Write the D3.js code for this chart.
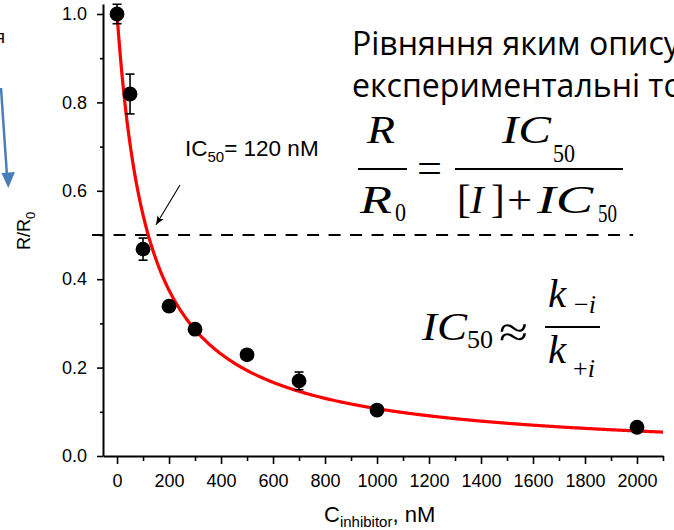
<!DOCTYPE html>
<html>
<head>
<meta charset="utf-8">
<script src="https://cdn.jsdelivr.net/npm/d3@7"></script>
<style>
  html, body { margin: 0; padding: 0; background: #fff; }
  svg { display: block; }
</style>
</head>
<body>
<svg id="chart" width="674" height="530"></svg>
<script>
// Inhibitor concentration (nM) and relative response R/R0 with error bars
const conc  = [0, 50, 100, 200, 300, 500, 700, 1000, 2000];
const ratio = [1.0, 0.819, 0.468, 0.339, 0.287, 0.229, 0.170, 0.104, 0.065];
const errs  = [0.022, 0.045, 0.025, 0, 0, 0, 0.02, 0, 0];

// Fitted half-inhibition concentration, nM
const ic50 = 120;

// Axis ticks
const xMajor = [0, 200, 400, 600, 800, 1000, 1200, 1400, 1600, 1800, 2000];
const xMinor = [100, 300, 500, 700, 900, 1100, 1300, 1500, 1700, 1900, 2100];
const yMajor = [0.0, 0.2, 0.4, 0.6, 0.8, 1.0];
const yMinor = [0.1, 0.3, 0.5, 0.7, 0.9];

const svg = d3.select("#chart");
const sans = "'Liberation Sans', Arial, sans-serif";
const serif = "'Liberation Serif', 'Times New Roman', serif";

const x = d3.scaleLinear().domain([-54, 2100]).range([103, 663]);
const y = d3.scaleLinear().domain([0, 1.0226]).range([456, 4]);

// ---- axes ----
function styleAxis(g) {
  g.select(".domain").attr("stroke", "#000").attr("stroke-width", 2);
  g.selectAll(".tick line").attr("stroke", "#000").attr("stroke-width", 1.6);
  g.selectAll(".tick text").attr("fill", "#000")
    .style("font-family", sans).style("font-size", "18px");
}

svg.append("g").attr("transform", `translate(0,${y(0)})`)
  .call(d3.axisBottom(x).tickValues(xMinor).tickSize(5).tickSizeOuter(0).tickFormat(""))
  .call(styleAxis);
svg.append("g").attr("transform", `translate(0,${y(0)})`)
  .call(d3.axisBottom(x).tickValues(xMajor).tickSize(8).tickPadding(10).tickSizeOuter(0).tickFormat(d3.format("d")))
  .call(styleAxis)
  .call(g => g.select(".domain").remove());

svg.append("g").attr("transform", `translate(${x(-54)},0)`)
  .call(d3.axisLeft(y).tickValues(yMinor).tickSize(3).tickSizeOuter(0).tickFormat(""))
  .call(styleAxis);
svg.append("g").attr("transform", `translate(${x(-54)},0)`)
  .call(d3.axisLeft(y).tickValues(yMajor).tickSize(6).tickPadding(10).tickSizeOuter(0).tickFormat(d3.format(".1f")))
  .call(styleAxis)
  .call(g => g.select(".domain").remove());

// Axis titles
const xt = svg.append("text").attr("x", 324).attr("y", 522)
  .style("font-family", sans).style("font-size", "22px").attr("fill", "#000");
xt.append("tspan").text("C");
xt.append("tspan").attr("dy", 5).style("font-size", "15px").text("inhibitor");
xt.append("tspan").attr("dy", -5).text(", nM");

const yt = svg.append("text").attr("transform", "translate(30,250) rotate(-90)")
  .style("font-family", sans).style("font-size", "18px").attr("fill", "#000");
yt.append("tspan").text("R/R");
yt.append("tspan").attr("dy", 5).style("font-size", "13px").text("0");

// ---- 50 % reference line ----
svg.append("line")
  .attr("x1", x(-96)).attr("x2", x(1985))
  .attr("y1", y(0.5)).attr("y2", y(0.5))
  .attr("stroke", "#000").attr("stroke-width", 2)
  .attr("stroke-dasharray", "12,9.5");

// ---- fitted curve R/R0 = IC50 / ([I] + IC50) ----
const curveData = d3.range(0, 2100.1, 4).map(c => [c, ic50 / (c + ic50)]);
svg.append("path")
  .datum(curveData)
  .attr("fill", "none")
  .attr("stroke", "#ff0000")
  .attr("stroke-width", 3.2)
  .attr("d", d3.line().x(d => x(d[0])).y(d => y(d[1])));

// ---- error bars ----
const pts = conc.map((c, i) => ({ c, r: ratio[i], e: errs[i] }));
const eb = svg.append("g").attr("stroke", "#000").attr("stroke-width", 1.6);
pts.filter(d => d.e > 0).forEach(d => {
  const cx = x(d.c);
  eb.append("line").attr("x1", cx).attr("x2", cx).attr("y1", y(d.r - d.e)).attr("y2", y(d.r + d.e));
  eb.append("line").attr("x1", cx - 4.5).attr("x2", cx + 4.5).attr("y1", y(d.r - d.e)).attr("y2", y(d.r - d.e));
  eb.append("line").attr("x1", cx - 4.5).attr("x2", cx + 4.5).attr("y1", y(d.r + d.e)).attr("y2", y(d.r + d.e));
});

// ---- data points ----
svg.append("g").selectAll("circle").data(pts).join("circle")
  .attr("cx", d => x(d.c)).attr("cy", d => y(d.r)).attr("r", 7.4)
  .attr("fill", "#000");

// ---- IC50 annotation ----
svg.append("defs").append("marker")
  .attr("id", "ah").attr("viewBox", "0 0 10 10").attr("refX", 10).attr("refY", 5)
  .attr("markerWidth", 9).attr("markerHeight", 9).attr("markerUnits", "userSpaceOnUse")
  .attr("orient", "auto")
  .append("path").attr("d", "M0,1 L10,5 L0,9 L2.5,5 Z").attr("fill", "#000");

svg.append("line")
  .attr("x1", x(242)).attr("y1", y(0.613))
  .attr("x2", x(150)).attr("y2", y(0.523))
  .attr("stroke", "#000").attr("stroke-width", 1.1)
  .attr("marker-end", "url(#ah)");

const icl = svg.append("text").attr("x", 185).attr("y", 156)
  .style("font-family", sans).style("font-size", "22.5px").attr("fill", "#000");
icl.append("tspan").text("IC");
icl.append("tspan").attr("dy", 6).style("font-size", "15px").text("50");
icl.append("tspan").attr("dy", -6).text("= " + ic50 + " nM");

// ---- heading text (runs past the right edge) ----
const head = svg.append("g").style("font-family", "'Open Sans', 'Noto Sans', sans-serif").attr("fill", "#000");
const h1 = head.append("text").attr("x", 352).attr("y", 55).style("font-size", "30px")
  .text("Рівняння яким описуються");
const h2 = head.append("text").attr("x", 352).attr("y", 97).style("font-size", "30px")
  .text("експериментальні точки");
// fit the font size so that "Рівняння яким опис" spans about 312 px
const w18 = h1.node().getSubStringLength(0, 18);
const fs = 30 * 312 / w18;
h1.style("font-size", fs + "px");
h2.style("font-size", fs + "px");

// ---- equations ----
// each row is one text element; glyph runs get their own position (and width where given)
const eq = svg.append("g").attr("fill", "#000").style("font-family", serif);
function row(parts) {
  const t = eq.append("text");
  parts.forEach(p => {
    const s = t.append("tspan").style("font-size", p[3] + "px")
      .style("font-style", p[4] ? "italic" : "normal")
      .text(p[0]);
    if (p[1] != null) s.attr("x", p[1]);
    if (p[2] != null) s.attr("y", p[2]);
    if (p[5]) s.attr("textLength", p[5]).attr("lengthAdjust", "spacingAndGlyphs");
  });
  return t;
}
function bar(x1, x2, yy) {
  eq.append("line").attr("x1", x1).attr("x2", x2).attr("y1", yy).attr("y2", yy)
    .attr("stroke", "#000").attr("stroke-width", 2);
}
// R / R0 = IC50 / ([I] + IC50)
row([["R", 367, 143, 41, true, 28], ["IC", 502, 143, 41, true, 49], ["50", 553, 162, 26, false, 22]]);
row([["=", 417, 182, 42, false, 25]]);
row([["R", 360, 213, 41, true, 32], ["0", 395, 221, 26, false, 11],
     ["[", 457, 213, 41, false], ["I", 470, 213, 41, true], ["]", 491, 213, 41, false],
     ["+", 507, 213, 41, false, 25], ["IC", 537, 213, 41, true, 56], ["50", 598, 222, 26, false, 19]]);
bar(358, 407, 169);
bar(455, 623, 169);

// IC50 ≈ k-i / k+i
row([["IC", 422, 340, 41, true, 45], ["50", 467, 348, 26, false, 26], ["≈", 499, 347, 44, false, 29]]);
row([["k", 548, 307, 41, true], ["−", 574, 313, 26, false], ["i", null, null, 26, true]]);
row([["k", 548, 363, 41, true], ["+", 573, 377, 26, false], ["i", null, null, 26, true]]);
bar(545, 600, 327);

// ---- fragments of the neighbouring panel at the left edge ----
svg.append("text").attr("x", 5).attr("y", 43).attr("text-anchor", "end")
  .style("font-family", sans).style("font-size", "18px").attr("fill", "#000").text("я");
svg.append("line").attr("x1", 1).attr("y1", 88).attr("x2", 7).attr("y2", 176)
  .attr("stroke", "#4a7ebb").attr("stroke-width", 2.5);
svg.append("path").attr("d", "M1.5,173 L15,172 L8.3,188 Z").attr("fill", "#4a7ebb");
</script>
</body>
</html>
